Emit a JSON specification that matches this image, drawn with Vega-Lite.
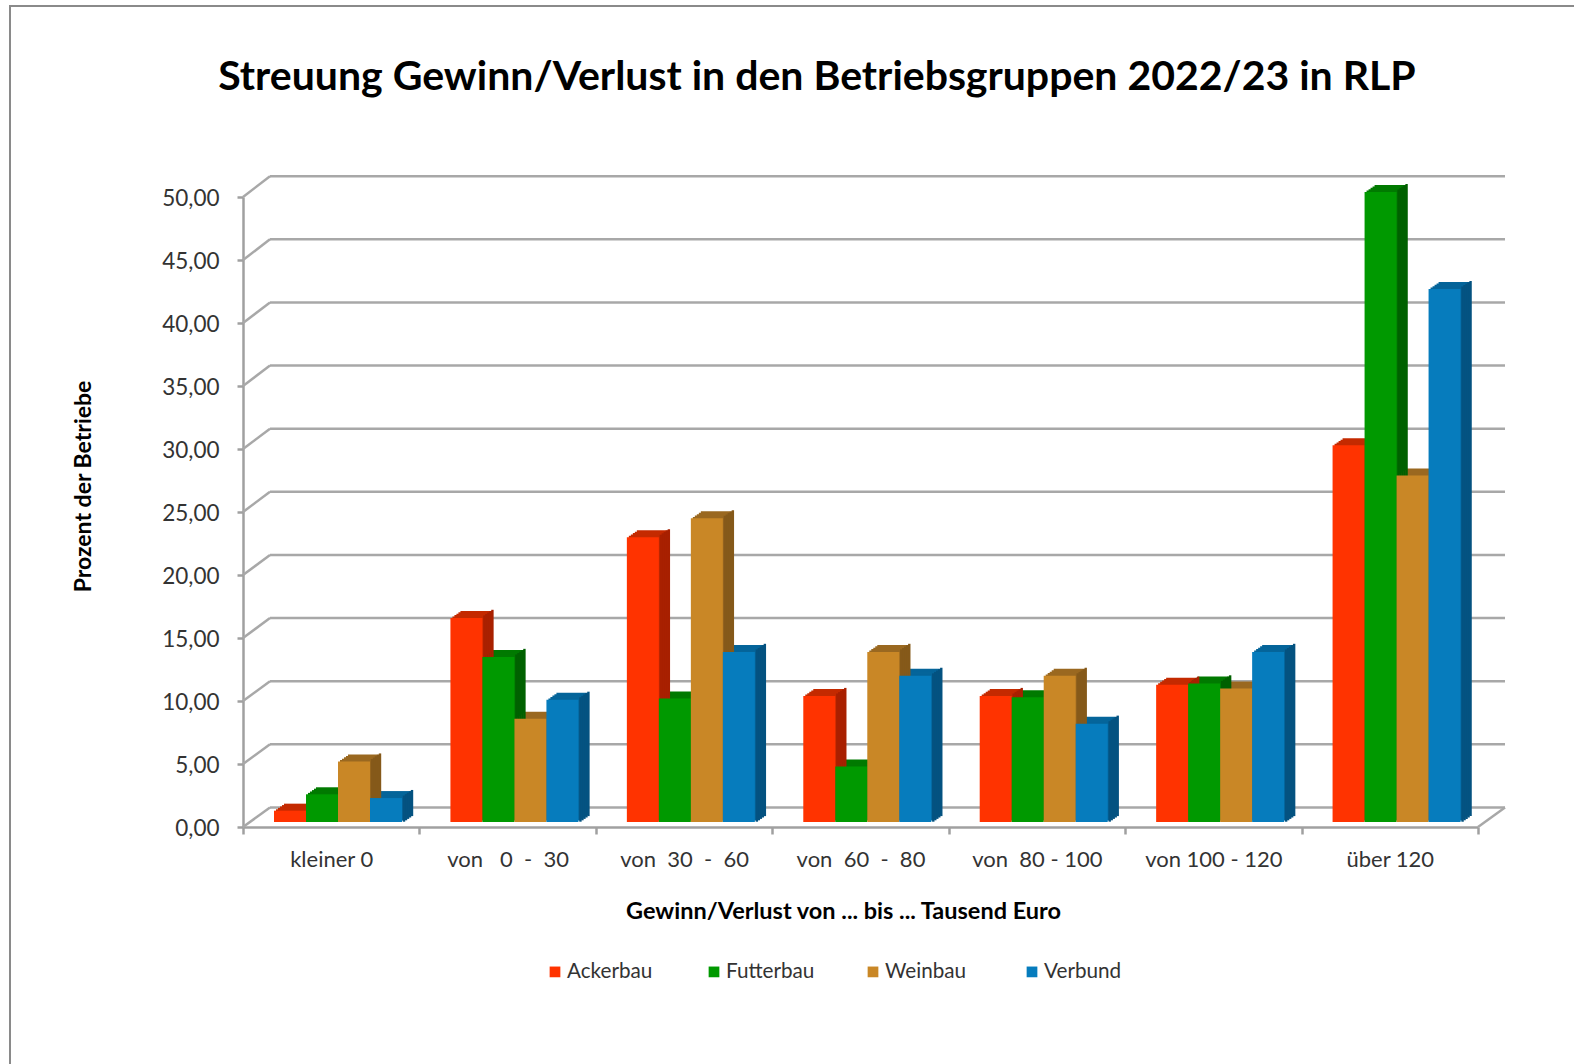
{"$schema":"https://vega.github.io/schema/vega-lite/v6.json","width":1570,"height":1064,"autosize":{"type":"none"},"padding":{"left":10,"top":6,"right":-6,"bottom":-6},"background":"#ffffff","view":{"stroke":"#8a8a8a","strokeWidth":2,"fill":"#ffffff"},
"title":{"text":"Streuung Gewinn/Verlust in den Betriebsgruppen 2022/23 in RLP","font":"Lato","fontSize":41,"fontWeight":"bold","color":"#000000","anchor":"middle","frame":"group","dx":22,"dy":129,"baseline":"alphabetic"},
"datasets":{"walls":[{"v":0,"back":1.55},{"v":5,"back":6.56},{"v":10,"back":11.57},{"v":15,"back":16.58},{"v":20,"back":21.59},{"v":25,"back":26.6},{"v":30,"back":31.61},{"v":35,"back":36.62},{"v":40,"back":41.63},{"v":45,"back":46.64},{"v":50,"back":51.65}],
"series":[{"b":"Ackerbau"},{"b":"Futterbau"},{"b":"Weinbau"},{"b":"Verbund"}],
"bars":[{"k":"kleiner 0","b":"Ackerbau","v":0.9},{"k":"kleiner 0","b":"Futterbau","v":2.2},{"k":"kleiner 0","b":"Weinbau","v":4.8},{"k":"kleiner 0","b":"Verbund","v":1.9},
{"k":"von\u00a0\u00a0\u00a00\u00a0\u00a0-\u00a0\u00a030","b":"Ackerbau","v":16.2},{"k":"von\u00a0\u00a0\u00a00\u00a0\u00a0-\u00a0\u00a030","b":"Futterbau","v":13.1},{"k":"von\u00a0\u00a0\u00a00\u00a0\u00a0-\u00a0\u00a030","b":"Weinbau","v":8.2},{"k":"von\u00a0\u00a0\u00a00\u00a0\u00a0-\u00a0\u00a030","b":"Verbund","v":9.7},
{"k":"von\u00a0\u00a030\u00a0\u00a0-\u00a0\u00a060","b":"Ackerbau","v":22.6},{"k":"von\u00a0\u00a030\u00a0\u00a0-\u00a0\u00a060","b":"Futterbau","v":9.8},{"k":"von\u00a0\u00a030\u00a0\u00a0-\u00a0\u00a060","b":"Weinbau","v":24.1},{"k":"von\u00a0\u00a030\u00a0\u00a0-\u00a0\u00a060","b":"Verbund","v":13.5},
{"k":"von\u00a0\u00a060\u00a0\u00a0-\u00a0\u00a080","b":"Ackerbau","v":10.0},{"k":"von\u00a0\u00a060\u00a0\u00a0-\u00a0\u00a080","b":"Futterbau","v":4.4},{"k":"von\u00a0\u00a060\u00a0\u00a0-\u00a0\u00a080","b":"Weinbau","v":13.5},{"k":"von\u00a0\u00a060\u00a0\u00a0-\u00a0\u00a080","b":"Verbund","v":11.6},
{"k":"von\u00a0\u00a080\u00a0-\u00a0100","b":"Ackerbau","v":10.0},{"k":"von\u00a0\u00a080\u00a0-\u00a0100","b":"Futterbau","v":9.9},{"k":"von\u00a0\u00a080\u00a0-\u00a0100","b":"Weinbau","v":11.6},{"k":"von\u00a0\u00a080\u00a0-\u00a0100","b":"Verbund","v":7.8},
{"k":"von 100 - 120","b":"Ackerbau","v":10.9},{"k":"von 100 - 120","b":"Futterbau","v":11.0},{"k":"von 100 - 120","b":"Weinbau","v":10.6},{"k":"von 100 - 120","b":"Verbund","v":13.5},
{"k":"über 120","b":"Ackerbau","v":29.9},{"k":"über 120","b":"Futterbau","v":50.0},{"k":"über 120","b":"Weinbau","v":27.5},{"k":"über 120","b":"Verbund","v":42.3}]},
"resolve":{"scale":{"x":"independent"},"axis":{"x":"independent"}},
"layer":[
{"data":{"name":"walls"},"layer":[
{"mark":{"type":"rule","color":"#a8a8a8","strokeWidth":2.5},"encoding":{"x":{"datum":0,"type":"quantitative","scale":{"domain":[0,7.153],"range":[233,1495],"nice":false,"zero":false},"axis":null},"x2":{"datum":0.153},"y":{"field":"v","type":"quantitative","scale":{"domain":[0,50],"range":[821,191],"nice":false},"axis":{"orient":"left","offset":-233,"values":[0,5,10,15,20,25,30,35,40,45,50],"labelExpr":"replace(format(datum.value,'.2f'),'.',',')","labelFont":"Lato","labelFontSize":22.5,"labelColor":"#333333","labelPadding":18,"labelOffset":1,"tickColor":"#a0a0a0","tickWidth":2.5,"tickSize":6,"domainColor":"#a0a0a0","domainWidth":2.5,"grid":false,"title":"Prozent der Betriebe","titleFont":"Lato","titleFontSize":23,"titleFontWeight":"bold","titleColor":"#000000","titleX":-148,"titleY":480}},"y2":{"field":"back"}}},
{"mark":{"type":"rule","color":"#a8a8a8","strokeWidth":2.5},"encoding":{"x":{"datum":0.153,"type":"quantitative"},"x2":{"datum":7.153},"y":{"field":"back","type":"quantitative"}}},
{"data":{"values":[{"v":0,"back":1.55}]},"mark":{"type":"rule","color":"#a8a8a8","strokeWidth":2.5},"encoding":{"x":{"datum":7,"type":"quantitative"},"x2":{"datum":7.153},"y":{"field":"v","type":"quantitative"},"y2":{"field":"back"}}}
]},
{"data":{"name":"bars"},"resolve":{"scale":{"xOffset":"independent"}},"encoding":{"x":{"field":"k","type":"nominal","sort":null,"scale":{"type":"band","domain":["kleiner 0","von\u00a0\u00a0\u00a00\u00a0\u00a0-\u00a0\u00a030","von\u00a0\u00a030\u00a0\u00a0-\u00a0\u00a060","von\u00a0\u00a060\u00a0\u00a0-\u00a0\u00a080","von\u00a0\u00a080\u00a0-\u00a0100","von 100 - 120","über 120"],"range":[233,1468],"paddingInner":0,"paddingOuter":0},"axis":{"orient":"bottom","offset":-243,"tickBand":"extent","labelAngle":0,"labelAlign":"center","labelBaseline":"top","labelFont":"Lato","labelFontSize":22,"labelColor":"#333333","labelPadding":15,"tickColor":"#a0a0a0","tickWidth":2.5,"tickSize":7,"domainColor":"#a0a0a0","domainWidth":2.5,"grid":false,"title":"Gewinn/Verlust von ... bis ... Tausend Euro","titleFont":"Lato","titleFontSize":23.5,"titleFontWeight":"bold","titleColor":"#000000","titlePadding":29,"titleX":833}},"y":{"field":"v","type":"quantitative"}},
"layer":[
{"encoding":{"fill":{"field":"b","type":"nominal","sort":null,"legend":null,"scale":{"domain":["Ackerbau","Futterbau","Weinbau","Verbund"],"range":["#c42a00","#007a00","#9a6820","#05659a"]}}},"resolve":{"scale":{"xOffset":"independent"}},"layer":[
{"mark":{"type":"bar","yOffset":-12},"encoding":{"xOffset":{"field":"b","type":"nominal","sort":null,"scale":{"domain":["Ackerbau","Futterbau","Weinbau","Verbund"],"range":[41,169],"paddingInner":0,"paddingOuter":0}}}},
{"mark":{"type":"bar","yOffset":-10.6},"encoding":{"xOffset":{"field":"b","type":"nominal","sort":null,"scale":{"domain":["Ackerbau","Futterbau","Weinbau","Verbund"],"range":[39,167],"paddingInner":0,"paddingOuter":0}}}},
{"mark":{"type":"bar","yOffset":-9.2},"encoding":{"xOffset":{"field":"b","type":"nominal","sort":null,"scale":{"domain":["Ackerbau","Futterbau","Weinbau","Verbund"],"range":[37,165],"paddingInner":0,"paddingOuter":0}}}},
{"mark":{"type":"bar","yOffset":-7.8},"encoding":{"xOffset":{"field":"b","type":"nominal","sort":null,"scale":{"domain":["Ackerbau","Futterbau","Weinbau","Verbund"],"range":[35,163],"paddingInner":0,"paddingOuter":0}}}},
{"mark":{"type":"bar","yOffset":-6.4},"encoding":{"xOffset":{"field":"b","type":"nominal","sort":null,"scale":{"domain":["Ackerbau","Futterbau","Weinbau","Verbund"],"range":[33,161],"paddingInner":0,"paddingOuter":0}}}}
]},
{"encoding":{"stroke":{"field":"b","type":"nominal","sort":null,"legend":null,"scale":{"domain":["Ackerbau","Futterbau","Weinbau","Verbund"],"range":["#a82000","#006000","#85591a","#045280"]}}},"resolve":{"scale":{"xOffset":"independent"}},"layer":[
{"mark":{"type":"bar","width":0.2,"strokeWidth":2.2,"yOffset":-12},"encoding":{"xOffset":{"field":"b","type":"nominal","sort":null,"scale":{"domain":["Ackerbau","Futterbau","Weinbau","Verbund"],"range":[57,185],"paddingInner":0,"paddingOuter":0}}}},
{"mark":{"type":"bar","width":0.2,"strokeWidth":2.2,"yOffset":-10.6},"encoding":{"xOffset":{"field":"b","type":"nominal","sort":null,"scale":{"domain":["Ackerbau","Futterbau","Weinbau","Verbund"],"range":[55,183],"paddingInner":0,"paddingOuter":0}}}},
{"mark":{"type":"bar","width":0.2,"strokeWidth":2.2,"yOffset":-9.2},"encoding":{"xOffset":{"field":"b","type":"nominal","sort":null,"scale":{"domain":["Ackerbau","Futterbau","Weinbau","Verbund"],"range":[53,181],"paddingInner":0,"paddingOuter":0}}}},
{"mark":{"type":"bar","width":0.2,"strokeWidth":2.2,"yOffset":-7.8},"encoding":{"xOffset":{"field":"b","type":"nominal","sort":null,"scale":{"domain":["Ackerbau","Futterbau","Weinbau","Verbund"],"range":[51,179],"paddingInner":0,"paddingOuter":0}}}},
{"mark":{"type":"bar","width":0.2,"strokeWidth":2.2,"yOffset":-6.4},"encoding":{"xOffset":{"field":"b","type":"nominal","sort":null,"scale":{"domain":["Ackerbau","Futterbau","Weinbau","Verbund"],"range":[49,177],"paddingInner":0,"paddingOuter":0}}}}
]},
{"mark":{"type":"bar","yOffset":-5},"encoding":{"color":{"field":"b","type":"nominal","sort":null,"legend":null,"scale":{"domain":["Ackerbau","Futterbau","Weinbau","Verbund"],"range":["#ff3300","#009900","#c98726","#067cbd"]}},"xOffset":{"field":"b","type":"nominal","sort":null,"scale":{"domain":["Ackerbau","Futterbau","Weinbau","Verbund"],"range":[31,159],"paddingInner":0,"paddingOuter":0}}}}
]},
{"data":{"name":"series"},"encoding":{"x":{"field":"b","type":"nominal","sort":null,"axis":null,"scale":{"type":"point","domain":["Ackerbau","Futterbau","Weinbau","Verbund"],"range":[545,1022],"padding":0}},"y":{"datum":-11.5,"type":"quantitative"}},"layer":[
{"mark":{"type":"square","size":115,"opacity":1},"encoding":{"color":{"field":"b","type":"nominal","sort":null,"legend":null}}},
{"mark":{"type":"text","align":"left","baseline":"middle","dx":12,"font":"Lato","fontSize":20.7,"color":"#333333"},"encoding":{"text":{"field":"b","type":"nominal"}}}
]}
]}
